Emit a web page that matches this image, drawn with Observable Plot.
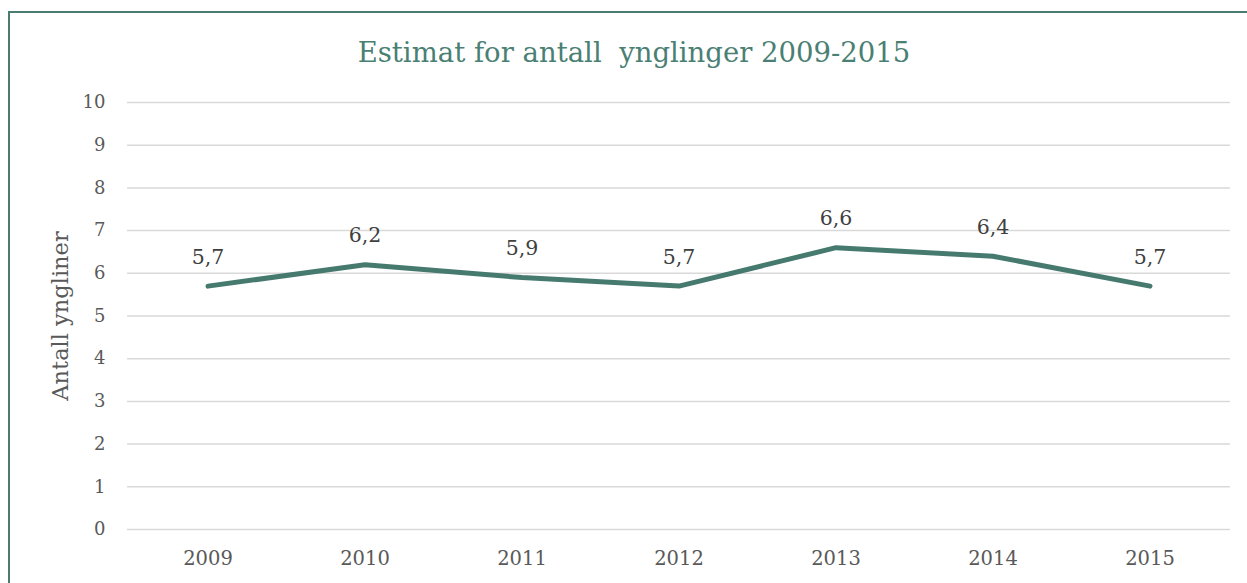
<!DOCTYPE html>
<html>
<head>
<meta charset="utf-8">
<script src="https://cdn.jsdelivr.net/npm/d3@7"></script>
<script src="https://cdn.jsdelivr.net/npm/@observablehq/plot@0.6"></script>
<style>
  html, body { margin: 0; padding: 0; background: #fff; overflow: hidden; width: 1247px; height: 583px; }
  #frame { position: absolute; left: 8px; top: 11px; width: 1300px; height: 700px; border: 2px solid #4a7c70; box-sizing: border-box; }
  #title { position: absolute; left: 0; top: 35px; width: 1268px; text-align: center; font-family: "DejaVu Serif", serif; font-size: 27.5px; line-height: 34px; color: #4a7f73; white-space: pre; }
  #chart { position: absolute; left: 0; top: 80px; }
</style>
</head>
<body>
<div id="frame"></div>
<div id="title"></div>
<div id="chart"></div>
<script>
const titleText = "Estimat for antall  ynglinger 2009-2015";
const yLabel = "Antall yngliner";
const years = ["2009", "2010", "2011", "2012", "2013", "2014", "2015"];
const values = [5.7, 6.2, 5.9, 5.7, 6.6, 6.4, 5.7];
const yTicks = [0, 1, 2, 3, 4, 5, 6, 7, 8, 9, 10];

document.getElementById("title").textContent = titleText;

const data = years.map((y, i) => ({year: y, value: values[i]}));
const fmt = v => String(v.toFixed(1)).replace(".", ",");

const chart = Plot.plot({
  width: 1247,
  height: 503,
  marginLeft: 127,
  marginRight: 17,
  marginTop: 22,
  marginBottom: 54,
  x: {type: "band", domain: years, padding: 0, label: null},
  y: {domain: [0, 10], label: null},
  style: {fontFamily: "DejaVu Serif", fontSize: "18px", color: "#595959", background: "transparent"},
  marks: [
    Plot.gridY(yTicks, {stroke: "#d9d9d9", strokeOpacity: 1, strokeWidth: 1.5}),
    Plot.axisX({tickSize: 0, tickPadding: 22, fontSize: 19.5, fill: "#595959", label: null}),
    Plot.axisY(yTicks, {tickSize: 0, tickPadding: 22, fontSize: 18, fill: "#595959", label: null}),
    Plot.text([yLabel], {frameAnchor: "left", textAnchor: "middle", rotate: -90, dx: -67, fontSize: 22.5, fill: "#595959"}),
    Plot.line(data, {x: "year", y: "value", stroke: "#467a6f", strokeWidth: 5, strokeLinecap: "round", strokeLinejoin: "round"}),
    Plot.text(data, {x: "year", y: "value", text: d => fmt(d.value), dy: -29, fontSize: 20.5, fill: "#404040"})
  ]
});
document.getElementById("chart").appendChild(chart);
</script>
</body>
</html>
